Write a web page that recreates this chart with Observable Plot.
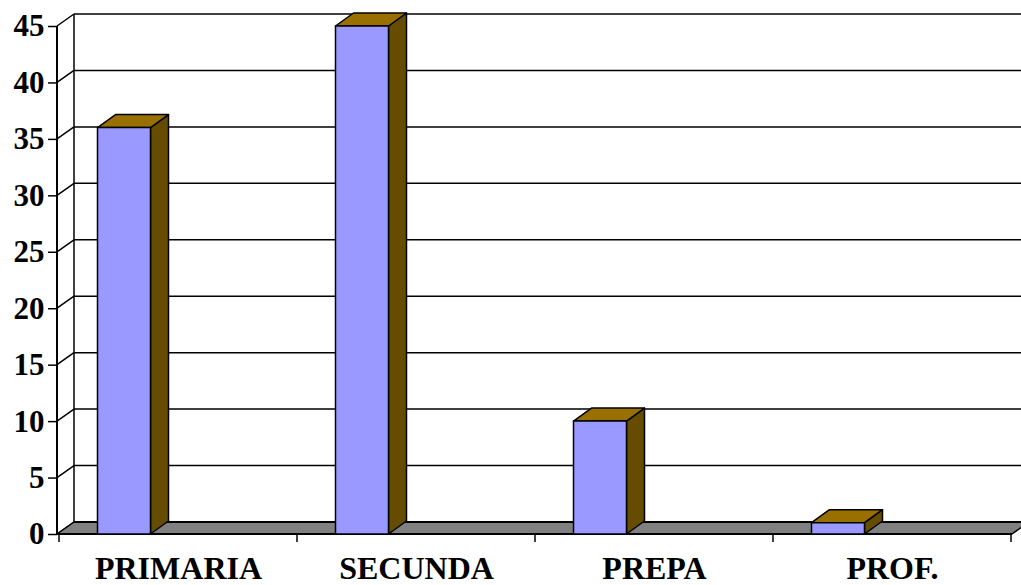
<!DOCTYPE html>
<html><head><meta charset="utf-8">
<script src="https://cdn.jsdelivr.net/npm/d3@7"></script>
<script src="https://cdn.jsdelivr.net/npm/@observablehq/plot@0.6"></script>
<style>body{margin:0;background:#fff} svg{display:block}</style>
</head><body><div id="chart"></div>
<script>
const categories = ["PRIMARIA", "SECUNDA", "PREPA", "PROF."];
const values = [36, 45, 10, 1];
const yTicks = [0, 5, 10, 15, 20, 25, 30, 35, 40, 45];

const data = categories.map((c, i) => ({category: c, value: values[i]}));
const WALL = {dx: 17, dy: -12};
const BAR = {dx: 18, dy: -13, inset: 38.5, width: 53};
const FONT = "'Liberation Serif', 'Times New Roman', serif";
const C = {front: "#9999ff", top: "#997000", side: "#664c00", floor: "#808080"};

function el(tag, attrs) {
  const e = document.createElementNS("http://www.w3.org/2000/svg", tag);
  for (const k in attrs) e.setAttribute(k, attrs[k]);
  return e;
}
function poly(pts, fill, w) {
  return el("polygon", {points: pts.map(p => p.join(",")).join(" "), fill, stroke: "#000", "stroke-width": w || 1.5, "stroke-linejoin": "round"});
}
function seg(x1, y1, x2, y2, w) {
  return el("line", {x1, y1, x2, y2, stroke: "#000", "stroke-width": w || 1.5});
}
function bandwidth(x) {
  const b = x.bandwidth;
  return typeof b === "function" ? b() : b;
}

// back wall + side wall gridlines
const walls = Plot.ruleY(yTicks, {
  y: d => d,
  render(index, scales, vals, dims) {
    const g = el("g", {});
    const x0 = dims.marginLeft, x1 = dims.width - dims.marginRight;
    const top = scales.y(yTicks[yTicks.length - 1]), bot = scales.y(yTicks[0]);
    g.append(seg(x0 + WALL.dx, top + WALL.dy, x0 + WALL.dx, bot + WALL.dy));
    for (const i of index) {
      const y = scales.y(yTicks[i]);
      g.append(seg(x0, y, x0 + WALL.dx, y + WALL.dy));
      g.append(seg(x0 + WALL.dx, y + WALL.dy, x1 + WALL.dx, y + WALL.dy));
    }
    return g;
  }
});

// floor
const floor = Plot.ruleY([0], {
  y: d => d,
  render(index, scales, vals, dims) {
    const g = el("g", {});
    const x0 = dims.marginLeft, x1 = dims.width - dims.marginRight;
    const y = scales.y(0);
    g.append(poly([[x0, y], [x1, y], [x1 + WALL.dx, y + WALL.dy], [x0 + WALL.dx, y + WALL.dy]], C.floor, 1.5));
    g.append(seg(x0, y, x1, y, 2.2));
    g.append(seg(x0 + WALL.dx, y + WALL.dy, x1 + WALL.dx, y + WALL.dy, 2));
    return g;
  }
});

// 3D bars
const bars = Plot.barY(data, {
  x: "category",
  y: "value",
  render(index, scales, vals, dims) {
    const g = el("g", {});
    for (const i of index) {
      const d = data[i];
      const xl = scales.x(d.category) + BAR.inset, xr = xl + BAR.width;
      const yb = scales.y(0), yt = scales.y(d.value);
      const {dx, dy} = BAR;
      g.append(poly([[xr, yb], [xr + dx, yb + dy], [xr + dx, yt + dy], [xr, yt]], C.side));
      g.append(poly([[xl, yt], [xr, yt], [xr + dx, yt + dy], [xl + dx, yt + dy]], C.top));
      g.append(poly([[xl, yb], [xr, yb], [xr, yt], [xl, yt]], C.front));
    }
    return g;
  }
});

// front axes lines and category ticks
const frontAxes = Plot.ruleY([0], {
  y: d => d,
  render(index, scales, vals, dims) {
    const g = el("g", {});
    const x0 = dims.marginLeft;
    const yb = scales.y(0), yt = scales.y(yTicks[yTicks.length - 1]);
    g.append(seg(x0, yt, x0, yb, 2));
    const bw = bandwidth(scales.x);
    const bounds = categories.map(c => scales.x(c)).concat([scales.x(categories[categories.length - 1]) + bw]);
    for (const bx of bounds) g.append(seg(bx, yb, bx, yb + 8, 1.5));
    return g;
  }
});

const chart = Plot.plot({
  width: 1021,
  height: 585,
  marginLeft: 57,
  marginRight: 9,
  marginTop: 26,
  marginBottom: 51,
  style: {fontFamily: FONT, fontWeight: "bold", background: "#fff", color: "#000", overflow: "visible"},
  x: {domain: categories, padding: 0, axis: null, label: null},
  y: {domain: [0, 45], axis: null, label: null},
  marks: [
    walls,
    floor,
    bars,
    frontAxes,
    Plot.axisY({ticks: yTicks, tickSize: 9, tickPadding: 4, fontSize: 31, fontWeight: "bold", strokeWidth: 1.5, tickFormat: d => d, label: null}),
    Plot.axisX({tickSize: 0, tickPadding: 22, fontSize: 32, fontWeight: "bold", label: null, style: {letterSpacing: "1.5px"}})
  ]
});
document.getElementById("chart").append(chart);
</script>
</body></html>
